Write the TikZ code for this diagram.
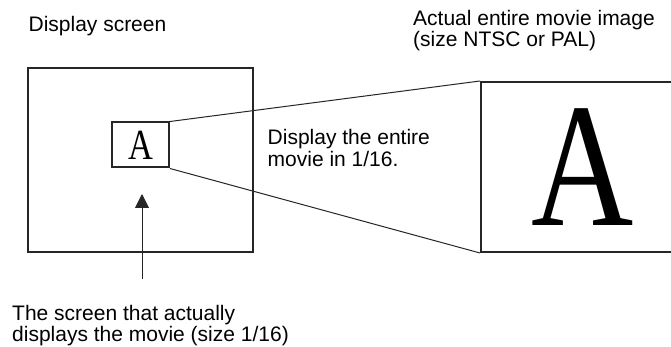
\documentclass[tikz,border=0pt]{standalone}
\usepackage{fontspec}
\setmainfont{Liberation Sans}
\newfontfamily\serifA{Liberation Serif}
\usetikzlibrary{arrows.meta}
\begin{document}
\begin{tikzpicture}[x=1pt,y=-1pt,
  lbl/.style={inner sep=0pt,anchor=base west,align=left,font=\fontsize{21}{21.5}\selectfont},
  frame/.style={draw=black!85,line width=2pt,inner sep=0pt},
  link/.style={draw=black!85,line width=1pt}]
\clip (0,0) rectangle (671,347);
\fill[white] (0,0) rectangle (671,347);
% boxes
\node[frame,minimum width=225pt,minimum height=184pt] (screen) at (140.5,160) {};
\node[frame,minimum width=57pt,minimum height=45pt] (small) at (140.5,145)
  {\scalebox{0.8}[1]{\serifA\fontsize{43}{43}\selectfont A}};
\node[frame,minimum width=203pt,minimum height=170pt] (big) at (582.5,167)
  {\scalebox{0.8}[1]{\serifA\fontsize{177}{177}\selectfont A}};
% connectors
\draw[link] (small.north east) -- (big.north west);
\draw[link] (small.south east) -- (big.south west);
\coordinate (arrowfoot) at (142,279);
\coordinate (arrowtip) at (142,194);
\draw[link,-{Triangle[width=14pt,length=14pt]}] (arrowfoot) -- (arrowtip);
% labels (base anchor = baseline of last line)
\node[lbl] (t1) at (28.4,32) {Display screen};
\node[lbl] (t2) at (413,47) {Actual entire movie image\\(size NTSC or PAL)};
\node[lbl] (t3) at (267.5,166.5) {Display the entire\\movie in 1/16.};
\node[lbl] (t4) at (12,341.5) {The screen that actually\\displays the movie (size 1/16)};
\end{tikzpicture}
\end{document}
